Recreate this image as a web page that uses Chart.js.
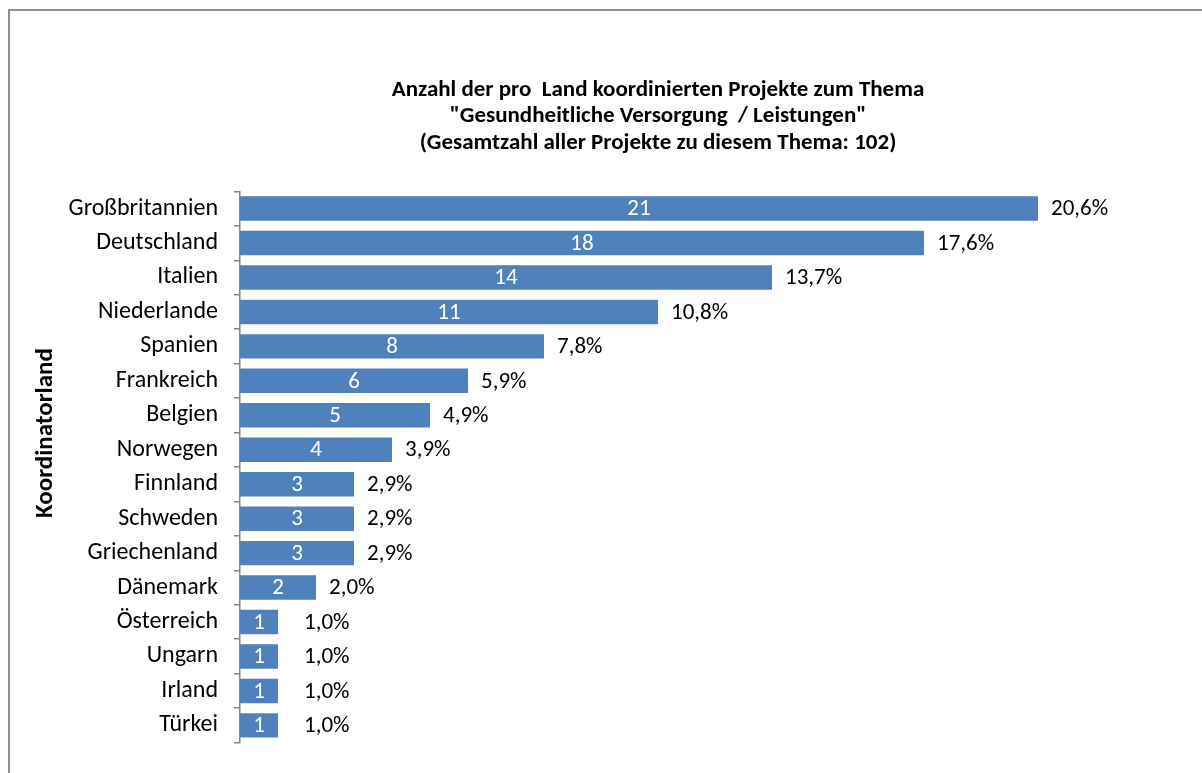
<!DOCTYPE html>
<html lang="de">
<head>
<meta charset="utf-8">
<title>Projekte nach Koordinatorland</title>
<script src="https://cdn.jsdelivr.net/npm/chart.js@4.4.1/dist/chart.umd.min.js"></script>
<style>
  html, body { margin: 0; padding: 0; background: #fff; overflow: hidden; }
  #wrap { position: relative; width: 1202px; height: 773px; }
  #frame {
    position: absolute; left: 8px; top: 9px; width: 1300px; height: 900px;
    border: 2px solid #8f8f8f; pointer-events: none;
  }
  canvas { position: absolute; left: 0; top: 0; }
</style>
</head>
<body>
<div id="wrap">
  <canvas id="chart" width="1202" height="773"></canvas>
  <div id="frame"></div>
</div>
<script>
// Länder und Anzahl koordinierter Projekte
const laender = ['Großbritannien', 'Deutschland', 'Italien', 'Niederlande', 'Spanien', 'Frankreich',
  'Belgien', 'Norwegen', 'Finnland', 'Schweden', 'Griechenland', 'Dänemark', 'Österreich',
  'Ungarn', 'Irland', 'Türkei'];
const projekte = [21, 18, 14, 11, 8, 6, 5, 4, 3, 3, 3, 2, 1, 1, 1, 1];
const anteile = ['20,6%', '17,6%', '13,7%', '10,8%', '7,8%', '5,9%', '4,9%', '3,9%',
  '2,9%', '2,9%', '2,9%', '2,0%', '1,0%', '1,0%', '1,0%', '1,0%'];
const titelZeilen = [
  'Anzahl der pro  Land koordinierten Projekte zum Thema',
  '"Gesundheitliche Versorgung  / Leistungen"',
  '(Gesamtzahl aller Projekte zu diesem Thema: 102)'
];
const achsenTitel = 'Koordinatorland';

const schrift = 'Carlito, Calibri, Lato, sans-serif';
const achsenGrau = '#868686';

// Zahlen in den Balken, Prozentwerte dahinter, Achsentitel links
const beschriftung = {
  id: 'beschriftung',
  afterDatasetsDraw(chart) {
    const ctx = chart.ctx;
    const meta = chart.getDatasetMeta(0);
    ctx.save();
    ctx.font = '23px ' + schrift;
    ctx.textBaseline = 'middle';
    meta.data.forEach((bar, i) => {
      const mitte = (bar.x + bar.base) / 2;
      ctx.fillStyle = '#ffffff';
      ctx.textAlign = 'center';
      ctx.fillText(String(projekte[i]), mitte, bar.y + 1);
      ctx.fillStyle = '#000000';
      ctx.textAlign = 'left';
      // bei ganz kurzen Balken steht der Prozentwert etwas weiter rechts
      const abstand = projekte[i] === 1 ? 26 : 13;
      ctx.fillText(anteile[i], bar.x + abstand, bar.y + 1);
    });
    ctx.translate(46, 433);
    ctx.rotate(-Math.PI / 2);
    ctx.font = 'bold 25px ' + schrift;
    ctx.textAlign = 'center';
    ctx.fillText(achsenTitel, 0, 0);
    ctx.restore();
  }
};

new Chart(document.getElementById('chart'), {
  type: 'bar',
  data: {
    labels: laender,
    datasets: [{
      data: projekte,
      backgroundColor: '#4f81bd',
      borderWidth: 0,
      barPercentage: 0.71,
      categoryPercentage: 1
    }]
  },
  options: {
    indexAxis: 'y',
    responsive: false,
    animation: false,
    layout: { padding: { left: 0, right: 126, top: 0, bottom: 16 } },
    plugins: {
      legend: { display: false },
      tooltip: { enabled: false },
      title: {
        display: true,
        text: titelZeilen,
        fullSize: false,
        color: '#000',
        font: { family: schrift, size: 23, weight: 'bold', lineHeight: 1.15 },
        padding: { top: 77, bottom: 35 }
      }
    },
    scales: {
      x: { display: false, min: 0, max: 22 },
      y: {
        afterFit(scale) { scale.width = 240; },
        border: { display: true, color: achsenGrau, width: 1.5 },
        grid: { drawOnChartArea: false, drawTicks: true, tickLength: 6, color: achsenGrau, lineWidth: 1.5 },
        ticks: { color: '#000', padding: 16, font: { family: schrift, size: 24 } }
      }
    }
  },
  plugins: [beschriftung]
});
</script>
</body>
</html>
